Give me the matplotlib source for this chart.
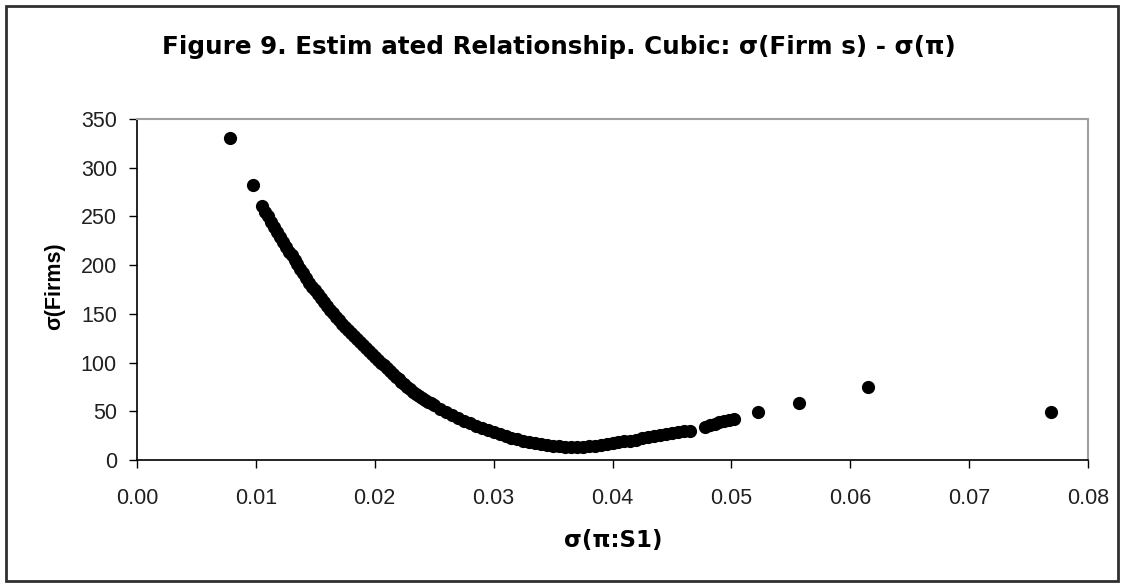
import numpy as np
import matplotlib
matplotlib.use('Agg')
import matplotlib.pyplot as plt
from matplotlib.patches import Rectangle

#--------------------------------------------
# data
# isolated points at the ends
sig_pi_lo = [0.0078, 0.0098]
sig_firms_lo = [330, 282]

# dense part of the curve
sig_pi_curve = [
    0.01050, 0.01075, 0.01100, 0.01125, 0.01150, 0.01175, 0.01200, 0.01225,
    0.01250, 0.01275, 0.01300, 0.01325, 0.01350, 0.01375, 0.01400, 0.01425,
    0.01450, 0.01475, 0.01500, 0.01525, 0.01550, 0.01575, 0.01600, 0.01625,
    0.01650, 0.01675, 0.01700, 0.01725, 0.01750, 0.01775, 0.01800, 0.01825,
    0.01850, 0.01875, 0.01900, 0.01925, 0.01950, 0.01975, 0.02000, 0.02025,
    0.02050, 0.02075, 0.02100, 0.02125, 0.02150, 0.02175, 0.02200, 0.02225,
    0.02250, 0.02275, 0.02300, 0.02325, 0.02350, 0.02375, 0.02400, 0.02425,
    0.02450, 0.02475, 0.02500,
    0.0255, 0.0260, 0.0265, 0.0270, 0.0275, 0.0280, 0.0285, 0.0290, 0.0295,
    0.0300, 0.0305, 0.0310, 0.0315, 0.0320, 0.0325, 0.0330, 0.0335, 0.0340,
    0.0345, 0.0350, 0.0355, 0.0360, 0.0365, 0.0370, 0.0375, 0.0380, 0.0385,
    0.0390, 0.0395, 0.0400, 0.0405, 0.0410, 0.0415, 0.0420, 0.0425, 0.0430,
    0.0435, 0.0440, 0.0445, 0.0450, 0.0455, 0.0460, 0.0465,
]
sig_firms_curve = [
    261, 255, 250, 244, 239, 234, 229, 224,
    219, 214, 210, 205, 201, 196, 192, 187,
    182, 178, 174, 170, 166, 162, 158, 154,
    151, 147, 144, 140, 137, 133, 130, 127,
    124, 121, 118, 115, 112, 109, 106, 103,
    100, 97, 94, 91, 88, 85, 83, 80,
    78, 75, 73, 70, 68, 66, 64, 62,
    60, 58, 56,
    52.5, 49, 46, 43, 40, 37.5, 35, 32.5, 30.5,
    28.5, 26.5, 24.5, 23, 21.5, 20, 18.5, 17.5, 16.5,
    15.5, 14.5, 14, 13.5, 13, 13, 13.5, 14, 14.5,
    15, 16, 17, 18, 19, 20, 21, 22.5, 23.5,
    24.5, 25.5, 26.5, 27.5, 28.5, 29.5, 30,
]

# short cluster after the gap
sig_pi_cluster = [0.0478, 0.0482, 0.0486, 0.0490, 0.0494, 0.0498, 0.0502]
sig_firms_cluster = [34, 35.5, 37, 38.5, 40, 41, 42.5]

# isolated points on the right
sig_pi_hi = [0.0522, 0.0557, 0.0615, 0.0769]
sig_firms_hi = [49, 59, 75, 49]

xticks = [0.00, 0.01, 0.02, 0.03, 0.04, 0.05, 0.06, 0.07, 0.08]
yticks = [0, 50, 100, 150, 200, 250, 300, 350]
#--------------------------------------------

plt.rcParams['font.family'] = ['Liberation Sans', 'DejaVu Sans']

x = np.concatenate([sig_pi_lo, sig_pi_curve, sig_pi_cluster, sig_pi_hi])
y = np.concatenate([sig_firms_lo, sig_firms_curve, sig_firms_cluster, sig_firms_hi])

W, H = 1122, 584
fig = plt.figure(figsize=(W / 100, H / 100), dpi=100)
ax = fig.add_axes([137 / W, 1 - 460 / H, (1088 - 137) / W, (460 - 119) / H])

ax.plot(x, y, 'o', color='black', markersize=9.5, markeredgewidth=0, clip_on=False)

ax.set_xlim(0, 0.08)
ax.set_ylim(0, 350)
ax.set_xticks(xticks)
ax.set_xticklabels(['%.2f' % t for t in xticks])
ax.set_yticks(yticks)
ax.tick_params(direction='out', length=6, width=1, labelsize=15.5, color='black',
               labelcolor='#202020')
ax.tick_params(axis='x', pad=14)
ax.tick_params(axis='y', pad=8.5)

for side in ['left', 'bottom']:
    ax.spines[side].set_color('black')
    ax.spines[side].set_linewidth(1.2)
for side in ['top', 'right']:
    ax.spines[side].set_color('#a0a0a0')
    ax.spines[side].set_linewidth(1.5)

fig.text(559 / W, 1 - 47 / H, 'Figure 9. Estim ated Relationship. Cubic: σ(Firm s) - σ(π)',
         ha='center', va='center', fontsize=17.7, fontweight='bold',
         family=['DejaVu Sans'])
fig.text(55 / W, 1 - 286 / H, 'σ(Firms)', rotation=90, ha='center', va='center',
         fontsize=15.5, fontweight='bold')
fig.text(613 / W, 1 - 540 / H, 'σ(π:S1)', ha='center', va='center',
         fontsize=16.5, fontweight='bold', family=['DejaVu Sans'])

fig.patches.append(Rectangle((6 / W, 1 - 581 / H), (1118 - 6) / W, (581 - 6) / H,
                             transform=fig.transFigure, fill=False,
                             edgecolor='#303030', linewidth=2))

fig.savefig('out.png', dpi=100)
